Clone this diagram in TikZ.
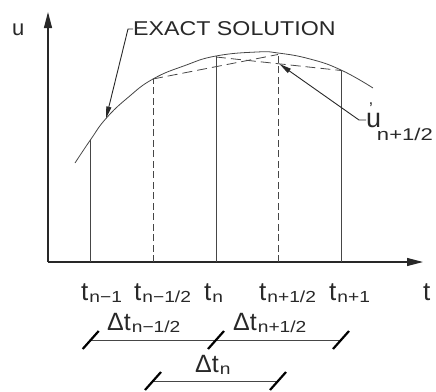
\documentclass[tikz,border=0pt]{standalone}
\usepackage{fontspec}
\setmainfont{Liberation Sans}
\usetikzlibrary{arrows.meta}
\definecolor{ink}{RGB}{40,40,40}
\definecolor{wire}{RGB}{70,70,70}
\newcommand{\sbs}[1]{\raisebox{-2pt}{\hspace{1pt}\scalebox{1.2}[1]{\fontsize{16}{16}\selectfont #1}}}
\begin{document}
\begin{tikzpicture}[x=1pt,y=-1pt,
  lab/.style={inner sep=0pt, text=ink, font=\fontsize{26}{26}\selectfont, anchor=base west},
  axis/.style={draw=ink, line width=1.1pt, -{Triangle[length=16pt,width=8pt]}},
  thin/.style={draw=wire, line width=0.8pt},
  dsh/.style={draw=wire, line width=0.8pt, dash pattern=on 7pt off 3.5pt},
  chord/.style={draw=wire, line width=0.8pt, dash pattern=on 10pt off 5pt},
  leader/.style={draw=ink, line width=0.9pt, -{Triangle[length=12pt,width=5pt]}},
  dimline/.style={draw=wire, line width=0.9pt},
  tickmark/.style={draw=black, line width=2.2pt}]
\useasboundingbox (0,0) rectangle (436,391);
% axes
\coordinate (O) at (48,262);
\coordinate (utop) at (48,12);
\coordinate (tend) at (423,262);
\draw[axis] (O) -- (utop);
\draw[axis] (O) -- (tend);
\node[lab, font=\fontsize{22}{22}\selectfont] (ulab) at (12,35) {u};
\node[lab] (tlab) at (423,300) {t};
% curve points
\coordinate (c0) at (75,163);
\coordinate (p1) at (90.7,139.5);
\coordinate (ex) at (106,118.5);
\coordinate (p2) at (153,79);
\coordinate (p3) at (216,56);
\coordinate (p4) at (278,53);
\coordinate (p5) at (341,70);
\coordinate (c9) at (373,88);
\draw[thin] plot[smooth, tension=0.8] coordinates {(c0) (p1) (ex) (128,97.5) (p2) (185,65.5) (p3) (257,52) (p4) (310,59) (p5) (c9)};
% base points
\coordinate (b1) at (90.7,262);
\coordinate (b2) at (153,262);
\coordinate (b3) at (216,262);
\coordinate (b4) at (278,262);
\coordinate (b5) at (341,262);
\draw[thin] (b1) -- (p1);
\draw[dsh] (b2) -- (p2);
\draw[thin] (b3) -- (p3);
\draw[dsh] (b4) -- (p4);
\draw[thin] (b5) -- (p5);
% chords
\coordinate (q3) at (216,57);
\coordinate (q4) at (278,54.5);
\coordinate (q5) at (341,70.5);
\draw[chord] (p2) -- (q4);
\draw[chord] (q3) -- (q5);
% time labels
\node[lab] (t1) at (81,300) {t\sbs{n−1}};
\node[lab] (t2) at (134,300) {t\sbs{n−1/2}};
\node[lab] (t3) at (204,300) {t\sbs{n}};
\node[lab] (t4) at (259,300) {t\sbs{n+1/2}};
\node[lab] (t5) at (329,300) {t\sbs{n+1}};
% exact solution leader
\node[lab, font=\fontsize{20}{20}\selectfont, anchor=west] (exact) at (133,29) {\scalebox{1.16}[1]{EXACT SOLUTION}};
\coordinate (exk) at (128,29);
\draw[leader] (exact.west) -- (exk) -- (ex);
% u' leader
\node[lab] (up) at (366,127) {{\fontsize{27}{27}\selectfont u}\hspace{-12pt}\raisebox{12.5pt}{\fontsize{17}{17}\selectfont ’}\hspace{4pt}\raisebox{-13pt}{\scalebox{1.3}[1]{\fontsize{17}{17}\selectfont n+1/2}}};
\coordinate (upk) at (359,120);
\coordinate (uptip) at (279.5,64);
\draw[leader] ([yshift=7pt]up.base west) -- (upk) -- (uptip);
% dimension lines
\coordinate (d1) at (90.7,340);
\coordinate (d2) at (216,340);
\coordinate (d3) at (341,340);
\coordinate (e1) at (153,381);
\coordinate (e2) at (278,381);
\draw[dimline] (d1) -- (d2);
\draw[dimline] (d2) -- (d3);
\draw[dimline] (e1) -- (e2);
\foreach \c in {d1,d2,d3,e1,e2}{
  \draw[tickmark] ([shift={(-8,9)}]\c) -- ([shift={(8,-9)}]\c);
}
\node[lab, font=\fontsize{25}{25}\selectfont] (dt1) at (107,330) {Δt\sbs{n−1/2}};
\node[lab, font=\fontsize{25}{25}\selectfont] (dt2) at (233,330) {Δt\sbs{n+1/2}};
\node[lab, font=\fontsize{25}{25}\selectfont] (dt3) at (195,372) {Δt\sbs{n}};
\end{tikzpicture}
\end{document}
